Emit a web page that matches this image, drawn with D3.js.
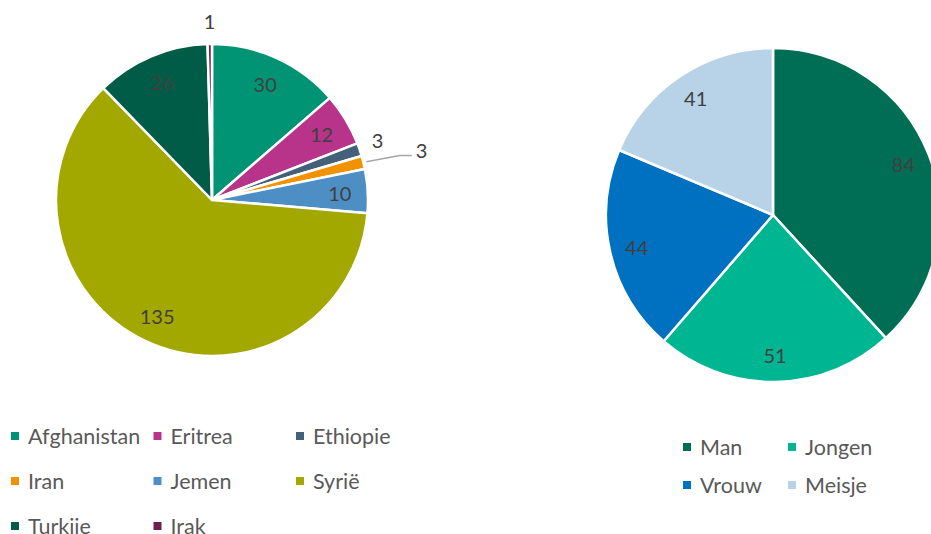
<!DOCTYPE html>
<html>
<head>
<meta charset="utf-8">
<script src="https://cdn.jsdelivr.net/npm/d3@7"></script>
<style>
  body { margin: 0; background: #fff; }
  text { font-family: Lato, "Open Sans", sans-serif; }
</style>
</head>
<body>
<script>
const w = 931;
const h = 534;

// herkomst
const countries = ['Afghanistan', 'Eritrea', 'Ethiopie', 'Iran', 'Jemen', 'Syrië', 'Turkije', 'Irak'];
const countryCounts = [30, 12, 3, 3, 10, 135, 26, 1];
const countryColors = ['#009474', '#B8348A', '#44607A', '#F39200', '#4D8FC4', '#A3A800', '#005C47', '#6E1E4F'];

// geslacht / leeftijd
const groups = ['Man', 'Jongen', 'Vrouw', 'Meisje'];
const groupCounts = [84, 51, 44, 41];
const groupColors = ['#006E55', '#00B592', '#0070C0', '#B8D3E8'];

const svg = d3.select('body')
  .append('svg')
  .attr('width', w)
  .attr('height', h);

const pie = d3.pie().sort(null).value(d => d.value);

function drawPie(cx, cy, r, names, values, colors, labelR) {
  const data = names.map((n, i) => ({ name: n, value: values[i], color: colors[i] }));
  const arcs = pie(data);
  const total = d3.sum(values);
  const arc = d3.arc().innerRadius(0).outerRadius(r);
  const labelArc = d3.arc().innerRadius(labelR).outerRadius(labelR);

  const g = svg.append('g').attr('transform', `translate(${cx},${cy})`);

  g.selectAll('path')
    .data(arcs)
    .enter()
    .append('path')
    .attr('d', arc)
    .style('fill', d => d.data.color)
    .style('stroke', '#fff')
    .style('stroke-width', 2.5)
    .style('stroke-linejoin', 'round');

  let lastOutside = null;
  arcs.forEach(d => {
    const mid = (d.startAngle + d.endAngle) / 2;
    const sx = Math.sin(mid), sy = -Math.cos(mid);
    let x, y, anchor = 'middle';
    if (d.value / total > 0.02) {
      [x, y] = labelArc.centroid(d);
    } else {
      x = sx * (r + 19);
      y = sy * (r + 19) - 4;
      if (lastOutside && Math.hypot(x - lastOutside[0], y - lastOutside[1]) < 24) {
        // te dicht op vorig label: met verbindingslijn naar buiten
        const ex = sx * r * 1.24, ey = sy * r * 1.24 + 2;
        g.append('polyline')
          .attr('points', [[sx * (r + 3), sy * (r + 3)], [ex, ey], [ex + 12, ey]].map(p => p.join(',')).join(' '))
          .style('fill', 'none')
          .style('stroke', '#A6A6A6')
          .style('stroke-width', 1.5);
        x = ex + 16;
        y = ey - 6;
        anchor = 'start';
      }
      lastOutside = [x, y];
    }
    g.append('text')
      .attr('x', x)
      .attr('y', y)
      .attr('text-anchor', anchor)
      .attr('dominant-baseline', 'central')
      .style('font-size', '20px')
      .style('fill', '#404040')
      .text(d.value);
  });
}

function drawLegend(x0, y0, colW, rowH, cols, names, colors) {
  const g = svg.append('g');
  names.forEach((n, i) => {
    const x = x0 + (i % cols) * colW;
    const y = y0 + Math.floor(i / cols) * rowH;
    g.append('rect')
      .attr('x', x)
      .attr('y', y - 4)
      .attr('width', 8)
      .attr('height', 8)
      .style('fill', colors[i]);
    g.append('text')
      .attr('x', x + 17)
      .attr('y', y)
      .attr('dominant-baseline', 'central')
      .style('font-size', '21.5px')
      .style('fill', '#595959')
      .text(n);
  });
}

drawPie(212, 200, 156, countries, countryCounts, countryColors, 128);
drawPie(773, 215, 167, groups, groupCounts, groupColors, 140);

drawLegend(11, 436, 142.5, 45, 3, countries, countryColors);
drawLegend(683, 447, 105, 38, 2, groups, groupColors);
</script>
</body>
</html>
